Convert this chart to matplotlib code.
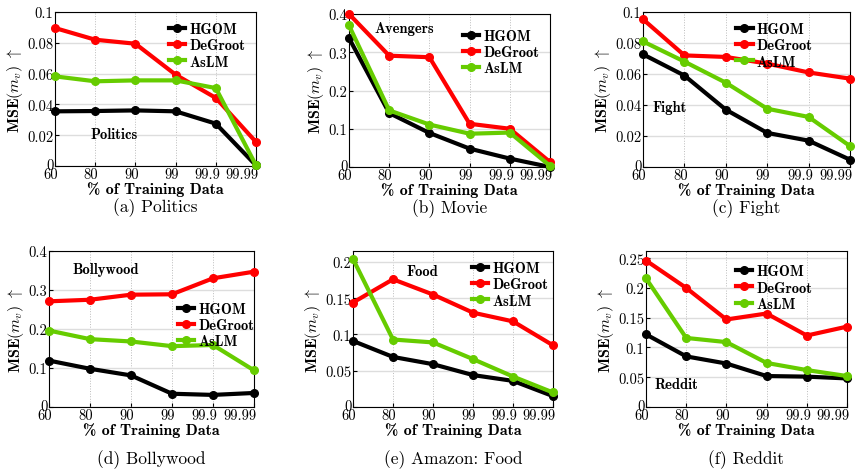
import matplotlib
matplotlib.use("Agg")
import matplotlib.pyplot as plt
import matplotlib.transforms as mtransforms

plt.rcParams['mathtext.fontset'] = 'cm'
plt.rcParams['font.family'] = ['cmr10', 'DejaVu Serif']
plt.rcParams['axes.formatter.use_mathtext'] = True

x_labels = ['60', '80', '90', '99', '99.9', '99.99']
methods = ['HGOM', 'DeGroot', 'AsLM']
colors = ['black', '#ff0000', '#66cc00']

# MSE values, one list per method and dataset
politics_hgom = [0.0355, 0.0357, 0.0361, 0.0355, 0.0275, 0.0004]
politics_degroot = [0.0896, 0.0820, 0.0794, 0.0593, 0.0442, 0.0156]
politics_aslm = [0.0582, 0.0550, 0.0556, 0.0556, 0.0506, 0.0004]

movie_hgom = [0.337, 0.141, 0.089, 0.048, 0.022, 0.0]
movie_degroot = [0.400, 0.291, 0.287, 0.113, 0.100, 0.013]
movie_aslm = [0.370, 0.148, 0.111, 0.087, 0.090, 0.003]

fight_hgom = [0.0727, 0.0590, 0.0370, 0.0220, 0.0170, 0.0047]
fight_degroot = [0.0953, 0.0720, 0.0710, 0.0667, 0.0610, 0.0570]
fight_aslm = [0.0810, 0.0680, 0.0544, 0.0376, 0.0323, 0.0135]

bolly_hgom = [0.119, 0.098, 0.081, 0.034, 0.031, 0.036]
bolly_degroot = [0.271, 0.275, 0.288, 0.289, 0.330, 0.347]
bolly_aslm = [0.196, 0.174, 0.168, 0.156, 0.159, 0.094]

food_hgom = [0.091, 0.069, 0.059, 0.044, 0.036, 0.015]
food_degroot = [0.144, 0.176, 0.155, 0.130, 0.118, 0.085]
food_aslm = [0.204, 0.093, 0.089, 0.066, 0.042, 0.020]

reddit_hgom = [0.122, 0.085, 0.073, 0.052, 0.051, 0.048]
reddit_degroot = [0.246, 0.200, 0.147, 0.157, 0.120, 0.135]
reddit_aslm = [0.216, 0.116, 0.109, 0.074, 0.062, 0.052]

panels = [
    ('(a) Politics', 'Politics', [politics_hgom, politics_degroot, politics_aslm],
     0.1, [0, 0.02, 0.04, 0.06, 0.08, 0.1], (1.47, 0.021), (1.0, 1.0)),
    ('(b) Movie', 'Avengers', [movie_hgom, movie_degroot, movie_aslm],
     0.4, [0, 0.1, 0.2, 0.3, 0.4], (1.37, 0.363), (1.0, 0.97)),
    ('(c) Fight', 'Fight', [fight_hgom, fight_degroot, fight_aslm],
     0.1, [0, 0.02, 0.04, 0.06, 0.08, 0.1], (0.64, 0.0387), (0.87, 1.0)),
    ('(d) Bollywood', 'Bollywood', [bolly_hgom, bolly_degroot, bolly_aslm],
     0.4, [0, 0.1, 0.2, 0.3, 0.4], (1.38, 0.353), (1.05, 0.74)),
    ('(e) Amazon: Food', 'Food', [food_hgom, food_degroot, food_aslm],
     0.215, [0, 0.05, 0.1, 0.15, 0.2], (1.73, 0.188), (1.03, 1.0)),
    ('(f) Reddit', 'Reddit', [reddit_hgom, reddit_degroot, reddit_aslm],
     0.262, [0, 0.05, 0.1, 0.15, 0.2, 0.25], (0.76, 0.039), (0.88, 0.98)),
]

# axes boxes in pixels: left, right, top, bottom, caption offset
boxes = [(55, 256, 13, 167, 41), (349, 550, 15, 168, 41), (643, 850, 13, 168, 41),
         (49, 254, 252, 408, 52), (353, 553, 252, 408, 52), (646, 847, 252, 408, 52)]

W, H = 857, 477
fig = plt.figure(figsize=(W / 100, H / 100), dpi=100)


def nudge(text, dx_pt, dy_pt=0):
    text.set_transform(text.get_transform() +
                       mtransforms.ScaledTranslation(dx_pt / 72, dy_pt / 72,
                                                     fig.dpi_scale_trans))


for (caption, tag, series, ytop, yticks, tagpos, legpos), (l, r, t, b, cap) in zip(panels, boxes):
    ax = fig.add_axes([l / W, 1 - b / H, (r - l) / W, (b - t) / H])
    xs = range(len(x_labels))
    for name, vals, c in zip(methods, series, colors):
        ax.plot(xs, vals, color=c, lw=3, marker='o', ms=5.5, label=name,
                clip_on=False, zorder=3)
    ax.set_xlim(0, len(x_labels) - 1)
    ax.set_ylim(0, ytop)
    ax.set_xticks(list(xs))
    ax.set_xticklabels(x_labels)
    ax.set_yticks(yticks)
    ax.set_yticklabels(['0' if v == 0 else ('%g' % v) for v in yticks])
    ax.tick_params(labelsize=10.5, length=3, direction='in', pad=1)
    # x labels sit slightly left of their ticks; the last one ends at the spine
    labels = ax.get_xticklabels()
    for lab in labels[:-2]:
        nudge(lab, -3)
    nudge(labels[-2], -6)
    labels[-1].set_horizontalalignment('right')
    nudge(labels[-1], 1.5)
    nudge(ax.get_yticklabels()[0], 0, 2)
    ax.xaxis.grid(True, ls=':', color='#bbbbbb', lw=0.7)
    ax.yaxis.grid(True, ls='-', color='#dddddd', lw=1.0)
    ax.set_axisbelow(True)
    ax.set_xlabel('% of Training Data', family='cmb10', fontsize=11.5, labelpad=0)
    ax.set_ylabel(r'MSE$(m_v)$ $\uparrow$', family='cmb10', fontsize=11.5, labelpad=2)
    ax.text(tagpos[0], tagpos[1], tag, family='cmb10', fontsize=10.5,
            ha='center', va='center')
    ax.legend(loc='upper right', bbox_to_anchor=legpos, frameon=False,
              prop={'family': 'cmb10', 'size': 10.5},
              handlelength=1.1, handletextpad=0.3, labelspacing=0.15,
              borderaxespad=0.3)
    fig.text((l + r) / 2 / W, 1 - (b + cap) / H, caption, fontsize=12.5,
             ha='center', va='center')

fig.savefig('out.png', dpi=100)
